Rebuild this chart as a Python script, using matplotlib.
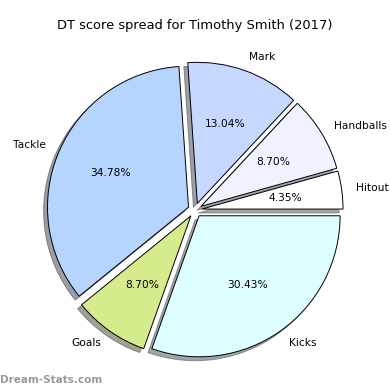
import matplotlib
matplotlib.use("Agg")
import matplotlib.pyplot as plt

labels = ["Hitout", "Handballs", "Mark", "Tackle", "Goals", "Kicks"]
values = [1, 2, 3, 8, 2, 7]
colors = ["#FFFFFF", "#EEF3FF", "#C6D8FF", "#B5D5FF", "#D4EC8C", "#DDFFFF"]
explode = [0.05] * 6

fig = plt.figure(figsize=(3.9, 3.9), dpi=100)
ax = fig.add_axes([0.048, 0.0095, 0.904, 0.904])
ax.pie(values, labels=labels, colors=colors, explode=explode, autopct="%1.2f%%",
       startangle=0, shadow=True, wedgeprops=dict(edgecolor="black", linewidth=0.7),
       textprops=dict(fontsize=7.7))
ax.set_aspect("equal")
fig.text(0.5, 0.935, "DT score spread for Timothy Smith (2017)", ha="center", va="center", fontsize=9.4)
fig.text(0.0, 0.025, "Dream-Stats.com", ha="left", va="center", fontsize=7.5, color="#999999", fontweight="bold")
fig.savefig("out.png", dpi=100)
